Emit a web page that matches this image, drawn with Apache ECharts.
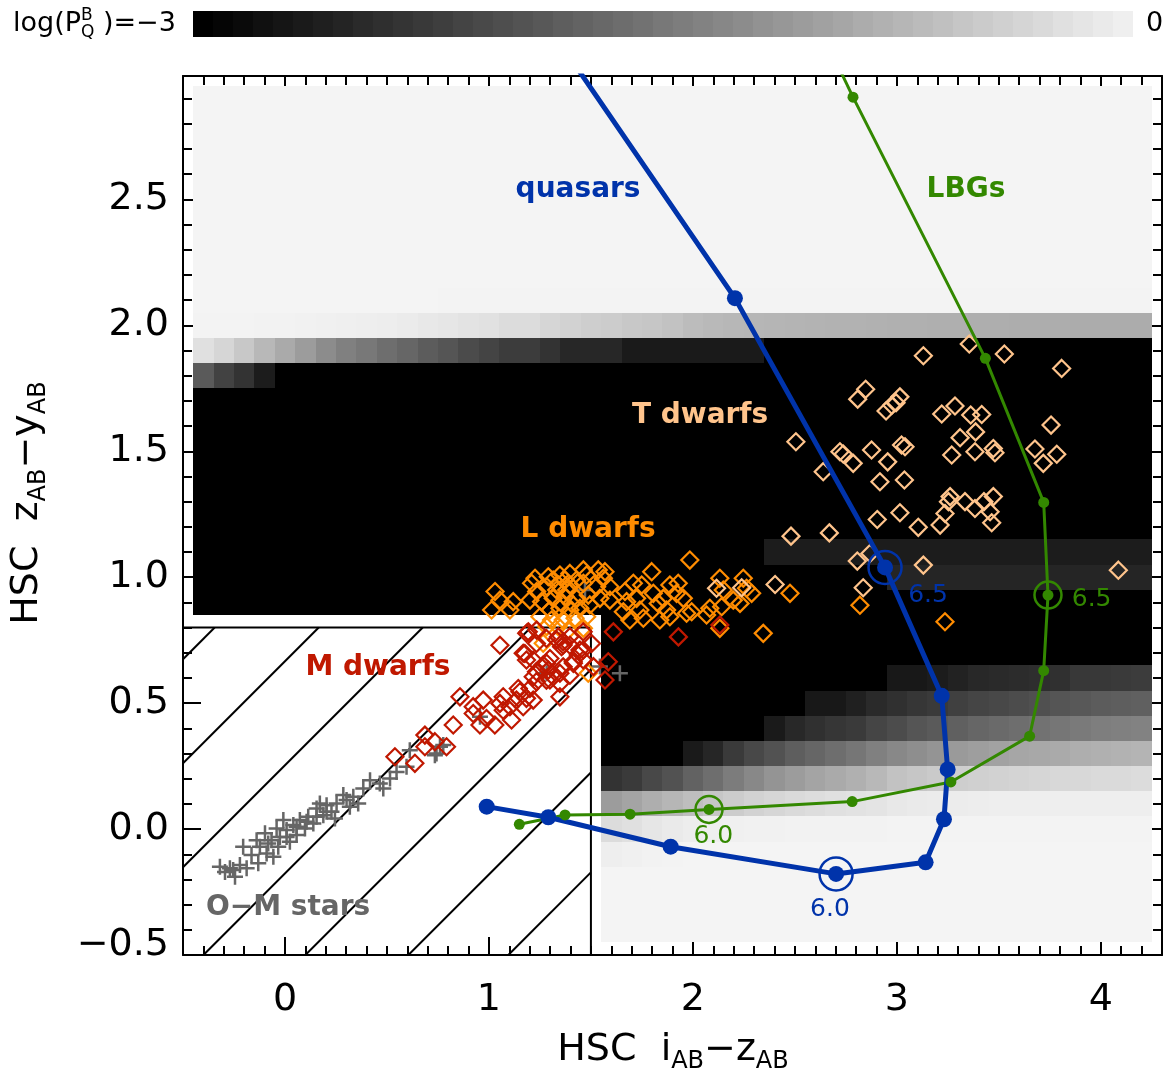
<!DOCTYPE html>
<html><head><meta charset="utf-8">
<script src="https://cdn.jsdelivr.net/npm/echarts@6/dist/echarts.min.js"></script>
<style>html,body{margin:0;padding:0;background:#fff}#c{width:1169px;height:1077px}</style>
</head><body><div id="c"></div><script>
const FONT = 'DejaVu Sans';
const C_Q = '#0033aa', C_G = '#338800', C_T = '#ffc48c', C_LD = '#ff8c00', C_M = '#c01800', C_S = '#666666';

// ---------- data ----------
const xTicks = [0, 1, 2, 3, 4];
const yTicks = [-0.5, 0, 0.5, 1, 1.5, 2, 2.5];

// heat map of log(P_Q^B), grey level per 0.1x0.1 cell; rows from y=2.9 down to y=-0.4,
// columns x=-0.4 ... 4.2 ; "-" = no cell, "v*n" = n cells of grey v (hex)
const HEAT_X0 = -0.4, HEAT_STEP = 0.1;
const heatRows = [
  [2.9, 'f4*47'], [2.8, 'f4*47'], [2.7, 'f4*47'], [2.6, 'f4*47'],
  [2.5, 'f4*47'], [2.4, 'f4*47'], [2.3, 'f4*47'], [2.2, 'f4*47'],
  [2.1, 'f4*12 f3*35'],
  [2.0, 'f3 f3 f3 f2 f2 f1 f0 ef ee ed eb e8 e6 e3 e1 dc dc d6 d2 ce cc c8 c6 c2 bc b9 b7 b6 b5 b4 b3 b2 b2 b1 b0 b0 af af ae ae ad ad ad ac ac ac ac'],
  [1.9, 'e0 d6 c8 b8 aa 9c 8c 80 78 6e 66 5c 55 4b 44 3c 3c 33 27 27 27 1a*7 00*19'],
  [1.8, '5a 42 33 1c 00*43'],
  [1.7, '00*47'], [1.6, '00*47'], [1.5, '00*47'], [1.4, '00*47'], [1.3, '00*47'], [1.2, '00*47'],
  [1.1, '00*28 1c*19'],
  [1.0, '00*34 25*13'],
  [0.9, '00*47'],
  [0.8, '-*20 00*27'],
  [0.7, '-*20 00*27'],
  [0.6, '-*20 00*14 18 18 1c 22 28 2a 2c 2e 30 38 38 3a 3c'],
  [0.5, '-*20 00*10 18 18 20 2a 30 36 3a 40 45 48 4c 50 55 58 5c 5e 60'],
  [0.4, '-*20 00*8 1a 28 30 36 3a 45 4c 55 5a 60 66 6a 6e 72 76 7a 7e 80 82'],
  [0.3, '-*20 00*4 1a 26 3a 48 52 5e 66 6e 76 80 88 8e 94 9a 9e a2 a6 a8 aa ae b0 b2 b4'],
  [0.2, '-*20 33 3a 48 52 62 6e 7c 88 94 9c a4 aa b0 b8 c2 c6 ca ce d0 d2 d4 d6 d8 d8 da da dc'],
  [0.1, '-*20 9c a4 ae b6 be c6 cc d2 d6 da dd e0 e2 e4 e8 ea eb ec ed ee*8'],
  [0.0, '-*20 dc e0 e6 ea ed ef f0 f1 f1 f2*5 f3*13'],
  [-0.1, '-*20 ee f0 f2 f3 f4*23'],
  [-0.2, '-*20 f4*27'], [-0.3, '-*20 f4*27'], [-0.4, '-*20 f4*27']
];

// colour bar grey steps (log P = -3 ... 0)
const colorbarLevels = [0,5,10,16,21,26,31,36,42,47,52,57,62,68,73,78,83,88,94,99,104,109,114,120,125,130,135,140,146,151,156,161,166,172,177,182,187,192,198,203,208,213,218,224,229,234,239];

// M-dwarf exclusion box and its hatch lines (x where each line meets y=-0.5)
const BOX_X = [-0.5, 1.5], BOX_Y = [-0.5, 0.8];
const hatchOffsets = [-1.95, -1.44, -0.93, -0.40, 0.10, 0.605, 1.095];

const quasarTrack = [[0.989,0.089],[1.291,0.047],[1.891,-0.070],[2.702,-0.178],[3.141,-0.132],[3.231,0.039],[3.249,0.237],[3.220,0.529],[2.942,1.039],[2.206,2.108],[1.40,3.06]];
const lbgTrack = [[1.149,0.019],[1.373,0.056],[1.692,0.059],[2.079,0.078],[2.781,0.109],[3.265,0.187],[3.651,0.369],[3.720,0.629],[3.741,0.929],[3.720,1.297],[3.434,1.869],[2.785,2.906],[2.70,3.05]];
const quasarRings = [[2.702,-0.178],[2.942,1.039]];
const lbgRings = [[2.079,0.078],[3.741,0.929]];
const quasarZLabels = [[2.672,-0.321,'6.0'],[3.153,0.929,'6.5']];
const lbgZLabels = [[2.100,-0.030,'6.0'],[3.955,0.912,'6.5']];

const tDwarfs = [
[3.355,1.926],[3.527,1.886],[3.808,1.829],[3.130,1.879],[2.847,1.746],[2.808,1.707],[3.015,1.716],[2.996,1.693],[2.947,1.660],[2.975,1.683],
[3.220,1.648],[3.285,1.680],[3.362,1.644],[3.416,1.646],[3.756,1.604],[2.505,1.538],[2.721,1.498],[2.737,1.489],[2.786,1.452],[2.876,1.505],
[3.023,1.525],[3.040,1.518],[2.955,1.458],[3.310,1.554],[3.386,1.577],[3.269,1.485],[3.383,1.498],[3.473,1.511],[3.481,1.494],[3.677,1.509],
[3.718,1.452],[3.784,1.488],[2.639,1.419],[2.917,1.379],[3.037,1.386],[3.261,1.320],[3.253,1.300],[3.334,1.300],[3.383,1.273],[3.427,1.300],
[3.473,1.320],[3.457,1.260],[3.465,1.216],[3.236,1.253],[3.212,1.207],[3.105,1.198],[3.015,1.256],[2.904,1.229],[2.481,1.163],[2.669,1.176],
[2.806,1.064],[2.868,1.094],[3.130,1.048],[2.403,0.971],[2.835,0.958],[4.086,1.028],[2.116,0.956],[2.239,0.958]
];
const lDwarfs = [
[1.030,0.943],[1.054,0.909],[1.119,0.903],[1.013,0.870],[1.103,0.870],[1.209,0.976],[1.226,0.996],[1.291,1.002],[1.348,1.009],[1.397,1.015],
[1.463,1.029],[1.479,1.009],[1.536,1.029],[1.569,1.022],[1.561,0.996],[1.593,0.962],[1.528,0.962],[1.463,0.976],[1.397,0.969],[1.340,0.969],
[1.283,0.962],[1.234,0.943],[1.201,0.909],[1.258,0.903],[1.315,0.916],[1.373,0.923],[1.430,0.916],[1.487,0.929],[1.544,0.916],[1.593,0.909],
[1.299,0.870],[1.348,0.877],[1.397,0.870],[1.446,0.877],[1.495,0.890],[1.250,0.843],[1.307,0.830],[1.364,0.830],[1.422,0.837],[1.479,0.843],
[1.283,0.804],[1.340,0.804],[1.389,0.790],[1.463,0.797],[1.266,0.738],[1.487,0.619],
[1.332,0.949],[1.381,0.949],[1.356,0.896],[1.405,0.896],[1.315,0.989],[1.430,0.989],[1.373,0.989],
[1.667,0.943],[1.708,0.976],[1.749,0.969],[1.675,0.903],[1.724,0.916],[1.659,0.863],[1.691,0.830],[1.740,0.870],[1.757,0.837],[1.798,1.022],
[1.806,0.936],[1.830,0.896],[1.855,0.916],[1.887,0.969],[1.928,0.976],[1.920,0.936],[1.871,0.870],[1.838,0.830],[1.887,0.843],[1.953,0.916],
[1.969,0.857],[1.994,0.863],[1.985,1.068],[2.067,0.850],[2.132,0.996],[2.149,0.949],[2.141,0.883],[2.247,0.996],[2.263,0.956],[2.288,0.936],
[2.231,0.896],[2.198,0.909],[2.476,0.936],[2.345,0.777],[2.132,0.797],[2.083,0.877],[2.819,0.889],[3.236,0.823]
];
const mDwarfs = [
[1.054,0.730],[1.193,0.783],[1.176,0.697],[1.184,0.671],[1.233,0.737],[1.282,0.757],[1.340,0.763],[1.364,0.744],[1.356,0.724],[1.397,0.730],
[1.462,0.783],[1.503,0.737],[1.462,0.711],[1.438,0.691],[1.413,0.664],[1.364,0.644],[1.299,0.677],[1.266,0.651],[1.233,0.625],[1.291,0.631],
[1.315,0.605],[1.397,0.611],[1.348,0.578],[1.282,0.591],[1.233,0.585],[1.201,0.558],[1.152,0.545],[1.184,0.519],[1.135,0.512],[1.070,0.525],
[1.103,0.486],[1.054,0.499],[1.070,0.472],[1.168,0.486],[1.217,0.512],[1.348,0.525],[1.144,0.558],[0.972,0.512],[0.923,0.486],[0.923,0.459],
[0.988,0.439],[1.029,0.413],[1.111,0.433],[0.956,0.413],[0.858,0.525],[0.825,0.413],[0.686,0.373],[0.735,0.347],[0.686,0.327],[0.792,0.327],
[0.539,0.287],[0.637,0.261],[1.610,0.783],[1.585,0.664],[1.569,0.592],[1.929,0.763],[2.132,0.810],
[1.185,0.777],[1.234,0.790],[1.168,0.698],[1.217,0.671],[1.283,0.658],[1.332,0.751],[1.364,0.731],[1.397,0.764],[1.446,0.711],[1.463,0.671],
[1.414,0.658],[1.348,0.619],[1.299,0.592],[1.217,0.605],[1.512,0.645]
];
const stars = [
[-0.319,-0.150],[-0.270,-0.156],[-0.245,-0.189],[-0.221,-0.143],[-0.188,-0.156],[-0.205,-0.070],[-0.164,-0.103],[-0.131,-0.136],[-0.123,-0.070],[-0.098,-0.017],
[-0.090,-0.097],[-0.057,-0.110],[-0.066,-0.044],[-0.041,0.002],[-0.025,-0.031],[-0.008,0.036],[0.008,-0.004],[0.024,-0.050],[0.041,0.016],[0.057,-0.024],
[0.073,0.036],[0.098,0.002],[0.114,0.049],[0.139,0.022],[0.155,0.082],[0.171,0.102],[0.188,0.055],[0.204,0.095],[0.228,0.069],[0.253,0.102],
[0.245,0.042],[0.286,0.135],[0.302,0.115],[0.318,0.089],[0.335,0.128],[0.359,0.102],[0.384,0.161],[0.417,0.194],[0.465,0.181],[0.482,0.161],
[0.515,0.201],[0.547,0.227],[0.612,0.313],[0.596,0.247],[0.735,0.293],[0.760,0.327],[0.743,0.300],[0.776,0.334],[0.956,0.446],[1.266,0.618],
[1.544,0.645],[1.642,0.619],[1.471,0.949],[1.283,0.619],
[-0.139,-0.044],[-0.082,-0.057],[-0.033,-0.070],[0.008,-0.031],[0.057,0.009],[0.106,0.029],[0.155,0.049],[0.204,0.069],[-0.254,-0.163],[-0.294,-0.170]
];

const regionLabels = [
  [1.437, 2.537, 'quasars', C_Q],
  [3.339, 2.537, 'LBGs', C_G],
  [2.035, 1.640, 'T dwarfs', C_T],
  [1.486, 1.187, 'L dwarfs', C_LD],
  [0.456, 0.639, 'M dwarfs', C_M],
  [0.015, -0.313, 'O\u2212M stars', C_S]
];

// ---------- build ----------
function parseRow(s) {
  const out = [];
  s.split(' ').forEach(tok => {
    const parts = tok.split('*');
    const val = parts[0] === '-' ? null : parseInt(parts[0], 16);
    const n = parts.length > 1 ? +parts[1] : 1;
    for (let k = 0; k < n; k++) out.push(val);
  });
  return out;
}
const heatData = [];
heatRows.forEach(([y, s]) => {
  parseRow(s).forEach((g, i) => { if (g !== null) heatData.push([HEAT_X0 + i * HEAT_STEP, y, g]); });
});

const measureCtx = document.createElement('canvas').getContext('2d');
function mathText(parts, x, y, rot, center) {
  let cx = 0; const kids = [];
  parts.forEach(p => {
    const w = p.w || 'normal';
    measureCtx.font = w + ' ' + p.s + 'px "' + FONT + '"';
    const width = measureCtx.measureText(p.t).width;
    kids.push({ type: 'text', x: cx, y: p.dy || 0, silent: true,
      style: { text: p.t, fontSize: p.s, fontFamily: FONT, fontWeight: w, fill: p.c || '#000', align: 'left', verticalAlign: 'middle' } });
    if (!p.stack) cx += width;
  });
  if (center) kids.forEach(k => { k.x -= cx / 2; });
  return { type: 'group', x: x, y: y, rotation: rot || 0, children: kids };
}

const MAIN_FS = 38, SUB_FS = 24, SUB_DY = 12;
const graphics = [
  mathText([{t:'HSC  i', s:MAIN_FS}, {t:'AB', s:SUB_FS, dy:SUB_DY}, {t:'\u2212z', s:MAIN_FS}, {t:'AB', s:SUB_FS, dy:SUB_DY}], 673, 1050, 0, true),
  mathText([{t:'HSC  z', s:MAIN_FS}, {t:'AB', s:SUB_FS, dy:SUB_DY}, {t:'\u2212y', s:MAIN_FS}, {t:'AB', s:SUB_FS, dy:SUB_DY}], 27, 503, Math.PI / 2, true),
  mathText([{t:'log(P', s:27}, {t:'B', s:17, dy:-8, stack:true}, {t:'Q', s:17, dy:9}, {t:' )=\u22123', s:27}], 13, 24, 0, false),
  mathText([{t:'0', s:27}], 1146, 24, 0, false)
];

const tickStyle = { color: '#000', width: 2 };
function majorX(pos, labels) {
  return { type: 'value', gridIndex: 0, min: -0.5, max: 4.3, position: pos,
    axisLine: { show: true, onZero: false, lineStyle: tickStyle },
    axisTick: { show: true, inside: true, length: 18, lineStyle: tickStyle, customValues: xTicks },
    axisLabel: { show: labels, customValues: xTicks, margin: 26, fontSize: 38, fontFamily: FONT, color: '#000', formatter: v => String(v) },
    splitLine: { show: false } };
}
function minorX(pos) {
  return { type: 'value', gridIndex: 0, min: -0.5, max: 4.3, interval: 0.1, position: pos,
    axisLine: { show: false, onZero: false }, axisLabel: { show: false },
    axisTick: { show: true, inside: true, length: 9, lineStyle: tickStyle }, splitLine: { show: false } };
}
function majorY(pos, labels) {
  return { type: 'value', gridIndex: 0, min: -0.5, max: 2.99, position: pos,
    axisLine: { show: true, onZero: false, lineStyle: tickStyle },
    axisTick: { show: true, inside: true, length: 18, lineStyle: tickStyle, customValues: yTicks },
    axisLabel: { show: labels, customValues: yTicks, margin: 14, fontSize: 38, fontFamily: FONT, color: '#000',
      formatter: v => { const s = (v < 0 ? '\u2212' : '') + Math.abs(v).toFixed(1); return Math.abs(v + 0.5) < 1e-9 ? '{lo|' + s + '}' : s; },
      rich: { lo: { fontSize: 38, fontFamily: FONT, color: '#000', padding: [0, 0, 20, 0] } } },
    splitLine: { show: false } };
}
function minorY(pos) {
  return { type: 'value', gridIndex: 0, min: -0.5, max: 2.99, interval: 0.1, position: pos,
    axisLine: { show: false, onZero: false }, axisLabel: { show: false },
    axisTick: { show: true, inside: true, length: 9, lineStyle: tickStyle }, splitLine: { show: false } };
}

const PLUS = 'path://M6.75,0h2.5v6.75h6.75v2.5h-6.75v6.75h-2.5v-6.75h-6.75v-2.5h6.75z';
function diamonds(data, color) {
  return { type: 'scatter', data: data, symbol: 'diamond', symbolSize: 17, z: 3,
    itemStyle: { color: 'rgba(0,0,0,0)', borderColor: color, borderWidth: 2.2, opacity: 1 }, silent: true };
}
function textPoints(data, color, size, weight) {
  return { type: 'scatter', data: data.map(d => ({ value: [d[0], d[1]], name: d[2], label: { color: d[3] || color } })),
    z: 6, symbolSize: 0, silent: true, itemStyle: { opacity: 1 },
    label: { show: true, position: 'inside', formatter: '{b}', fontSize: size, fontWeight: weight, fontFamily: FONT, opacity: 1 } };
}

const option = {
  animation: false,
  backgroundColor: '#fff',
  textStyle: { fontFamily: FONT },
  grid: [
    { left: 183, top: 76, width: 979, height: 879 },
    { left: 193, top: 11, width: 940, height: 26 }
  ],
  xAxis: [majorX('bottom', true), minorX('bottom'), majorX('top', false), minorX('top'),
    { type: 'value', gridIndex: 1, min: 0, max: 47, show: false }],
  yAxis: [majorY('left', true), minorY('left'), majorY('right', false), minorY('right'),
    { type: 'value', gridIndex: 1, min: 0, max: 1, show: false }],
  graphic: graphics,
  series: [
    { type: 'custom', name: 'heat', data: heatData, z: 1, silent: true,
      renderItem: (params, api) => {
        const x = api.value(0), y = api.value(1), g = api.value(2);
        const p1 = api.coord([x - HEAT_STEP / 2, y + HEAT_STEP / 2]);
        const p2 = api.coord([x + HEAT_STEP / 2, y - HEAT_STEP / 2]);
        const x1 = Math.round(p1[0]), y1 = Math.round(p1[1]), x2 = Math.round(p2[0]), y2 = Math.round(p2[1]);
        return { type: 'rect', shape: { x: x1, y: y1, width: x2 - x1, height: y2 - y1 }, style: { fill: 'rgb(' + g + ',' + g + ',' + g + ')' } };
      } },
    { type: 'custom', name: 'colorbar', xAxisIndex: 4, yAxisIndex: 4, data: colorbarLevels.map((g, i) => [i, g]), silent: true,
      renderItem: (params, api) => {
        const i = api.value(0), g = api.value(1);
        const p1 = api.coord([i, 1]), p2 = api.coord([i + 1, 0]);
        const x1 = Math.round(p1[0]), x2 = Math.round(p2[0]);
        return { type: 'rect', shape: { x: x1, y: p1[1], width: x2 - x1, height: p2[1] - p1[1] }, style: { fill: 'rgb(' + g + ',' + g + ',' + g + ')' } };
      } },
    { type: 'custom', name: 'hatch', data: hatchOffsets.map(v => [v, BOX_Y[0]]), z: 2, silent: true,
      renderItem: (params, api) => {
        const x0 = api.value(0);
        const tl = api.coord([BOX_X[0], BOX_Y[1]]), br = api.coord([BOX_X[1], BOX_Y[0]]);
        const p0 = api.coord([x0, BOX_Y[0]]);
        let sx, sy;
        if (p0[0] >= tl[0]) { sx = p0[0]; sy = p0[1]; } else { sx = tl[0]; sy = p0[1] - (tl[0] - p0[0]); }
        let ex = p0[0] + (p0[1] - tl[1]), ey = tl[1];
        if (ex > br[0]) { ex = br[0]; ey = p0[1] - (br[0] - p0[0]); }
        return { type: 'line', shape: { x1: sx, y1: sy, x2: ex, y2: ey }, style: { stroke: '#000', lineWidth: 2 } };
      } },
    { type: 'line', name: 'box', data: [[BOX_X[0], BOX_Y[1]], [BOX_X[1], BOX_Y[1]], [BOX_X[1], BOX_Y[0]]], z: 2,
      symbol: 'none', lineStyle: { color: '#000', width: 2 }, silent: true },
    { type: 'scatter', name: 'stars', data: stars, symbol: PLUS, symbolSize: 16, z: 3,
      itemStyle: { color: C_S, opacity: 1 }, silent: true },
    diamonds(lDwarfs, C_LD),
    diamonds(mDwarfs, C_M),
    diamonds(tDwarfs, C_T),
    { type: 'line', name: 'LBGs', data: lbgTrack, z: 4, symbol: 'circle', symbolSize: 11, showAllSymbol: true,
      lineStyle: { color: C_G, width: 3 }, itemStyle: { color: C_G, opacity: 1 }, silent: true },
    { type: 'line', name: 'quasars', data: quasarTrack, z: 4, symbol: 'circle', symbolSize: 16, showAllSymbol: true,
      lineStyle: { color: C_Q, width: 5 }, itemStyle: { color: C_Q, opacity: 1 }, silent: true },
    { type: 'scatter', data: lbgRings, z: 5, symbol: 'circle', symbolSize: 27,
      itemStyle: { color: 'rgba(0,0,0,0)', borderColor: C_G, borderWidth: 2.5, opacity: 1 }, silent: true },
    { type: 'scatter', data: quasarRings, z: 5, symbol: 'circle', symbolSize: 33,
      itemStyle: { color: 'rgba(0,0,0,0)', borderColor: C_Q, borderWidth: 2.5, opacity: 1 }, silent: true },
    textPoints(quasarZLabels, C_Q, 25, 'normal'),
    textPoints(lbgZLabels, C_G, 25, 'normal'),
    textPoints(regionLabels, null, 28, 'bold')
  ]
};
echarts.init(document.getElementById('c'), null, { renderer: 'canvas' }).setOption(option);
</script></body></html>
